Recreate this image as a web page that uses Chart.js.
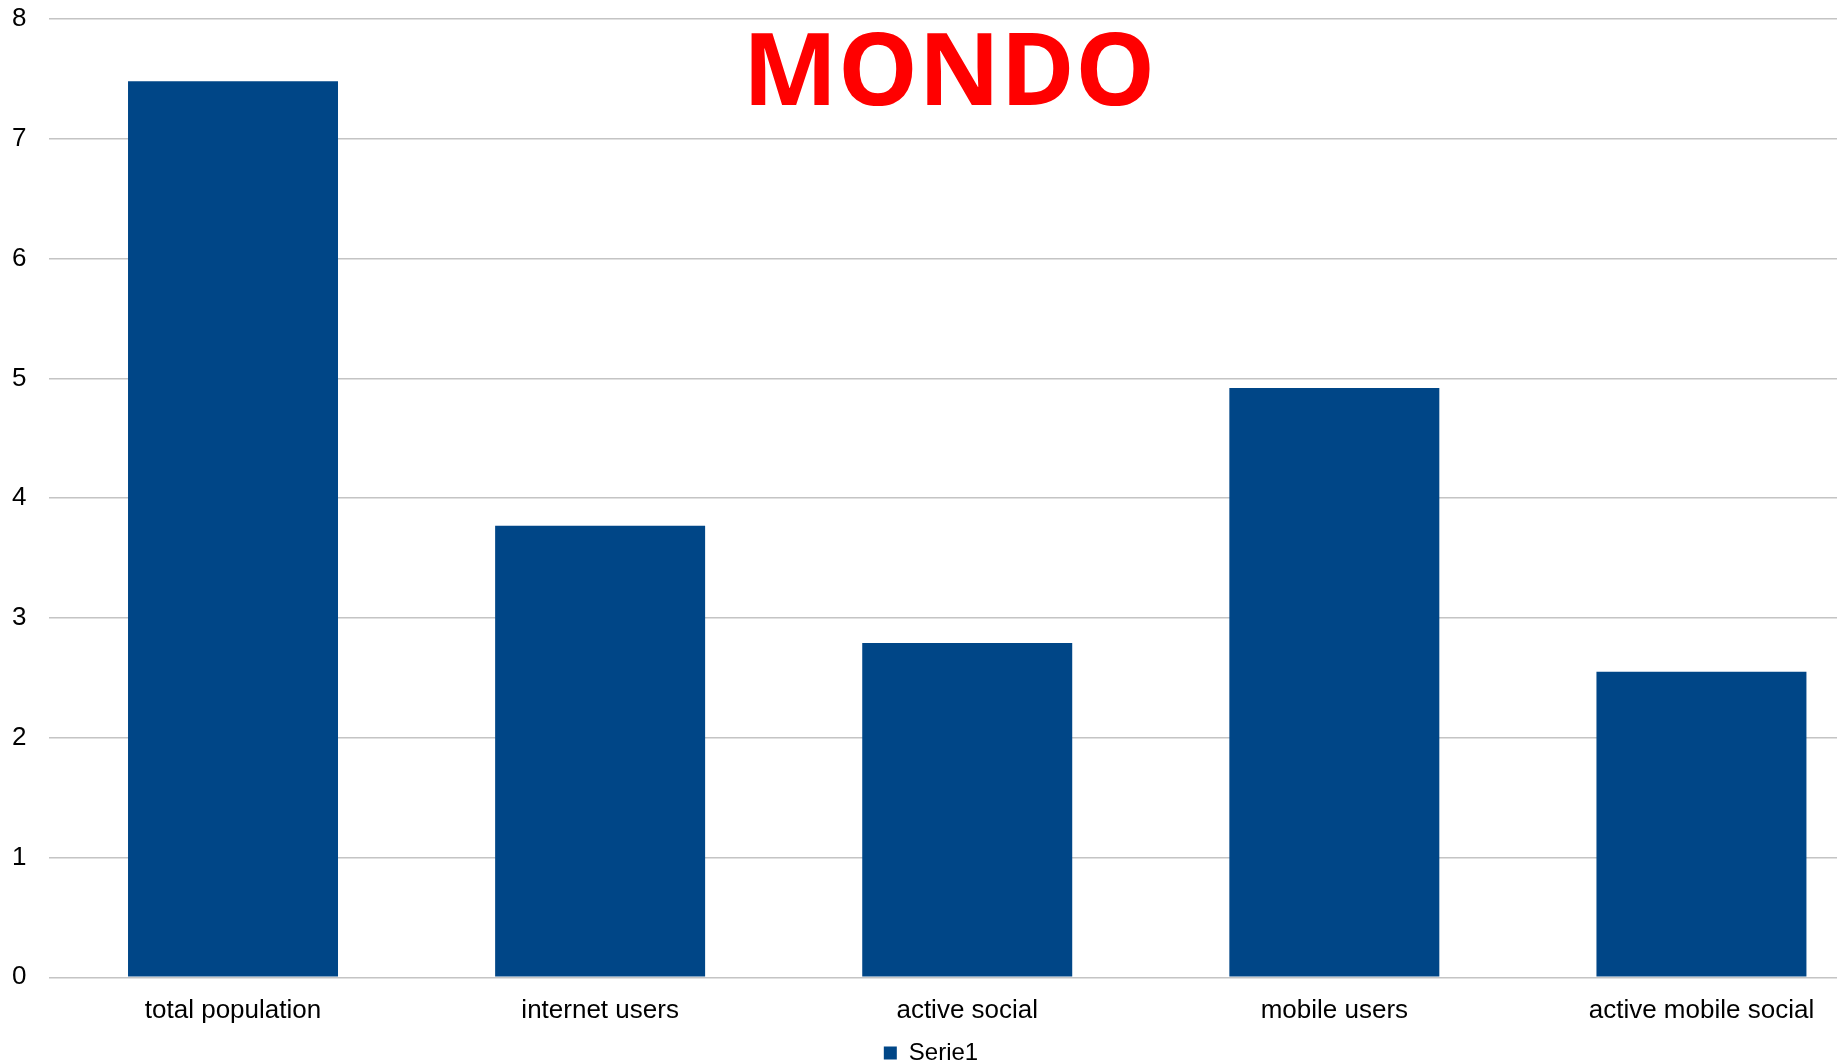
<!DOCTYPE html>
<html>
<head>
<meta charset="utf-8">
<script src="https://cdn.jsdelivr.net/npm/chart.js@4/dist/chart.umd.min.js"></script>
<style>
  html, body { margin: 0; padding: 0; background: #fff; }
  #wrap { width: 1837px; height: 1063px; overflow: hidden; position: relative; }
  #chart { position: absolute; left: 0; top: 0; }
</style>
</head>
<body>
<div id="wrap">
  <canvas id="chart" width="1885" height="1063"></canvas>
</div>
<script>
// dati del grafico (miliardi)
const categories = ['total population', 'internet users', 'active social', 'mobile users', 'active mobile social'];
const seriesName = 'Serie1';
const seriesValues = [7.48, 3.77, 2.79, 4.92, 2.55];
const yTicks = [0, 1, 2, 3, 4, 5, 6, 7, 8];
const chartTitle = 'MONDO';

const BAR_COLOR = '#004687';
const GRID_COLOR = '#c4c4c4';

// titolo rosso disegnato dentro l'area del grafico
const titlePlugin = {
    id: 'mondoTitle',
    afterDraw(chart) {
        const ctx = chart.ctx;
        ctx.save();
        ctx.font = 'bold 101px "Open Sans"';
        ctx.fillStyle = '#ff0000';
        ctx.textAlign = 'center';
        ctx.textBaseline = 'alphabetic';
        ctx.fillText(chartTitle, 949, 105);
        ctx.restore();
    }
};

// sposta un po' la legenda come nell'originale
const legendShift = {
    id: 'legendShift',
    afterLayout(chart) {
        const lg = chart.legend;
        if (!lg) return;
        const dx = -6;
        lg.left += dx;
        lg.right += dx;
    }
};

const ctx = document.getElementById('chart').getContext('2d');
new Chart(ctx, {
    type: 'bar',
    data: {
        labels: categories,
        datasets: [{
            label: seriesName,
            data: seriesValues,
            backgroundColor: BAR_COLOR,
            borderWidth: 0,
            categoryPercentage: 1,
            barPercentage: 0.572
        }]
    },
    options: {
        responsive: false,
        animation: false,
        devicePixelRatio: 1,
        layout: {
            padding: { left: -11, right: 0, top: 19, bottom: -12 }
        },
        plugins: {
            legend: {
                position: 'bottom',
                labels: {
                    boxWidth: 13,
                    boxHeight: 13,
                    padding: 1.5,
                    color: '#000',
                    font: { family: '"Liberation Sans", Arial, sans-serif', size: 24 }
                }
            },
            title: { display: false },
            tooltip: { enabled: false }
        },
        scales: {
            x: {
                grid: { display: false, drawTicks: false },
                border: { display: false },
                afterFit: (scale) => { scale.height -= 5; },
                ticks: {
                    color: '#000',
                    padding: 18,
                    maxRotation: 0,
                    autoSkip: false,
                    font: { family: '"Liberation Sans", Arial, sans-serif', size: 26 }
                }
            },
            y: {
                min: yTicks[0],
                max: yTicks[yTicks.length - 1],
                afterBuildTicks: (scale) => {
                    scale.ticks = yTicks.map(v => ({ value: v }));
                },
                afterFit: (scale) => { scale.paddingTop = 0; },
                grid: { color: GRID_COLOR, lineWidth: 1.5, drawTicks: false },
                border: { display: false },
                ticks: {
                    color: '#000',
                    padding: 23,
                    font: { family: '"Liberation Sans", Arial, sans-serif', size: 26 }
                }
            }
        }
    },
    plugins: [titlePlugin, legendShift]
});
</script>
</body>
</html>
